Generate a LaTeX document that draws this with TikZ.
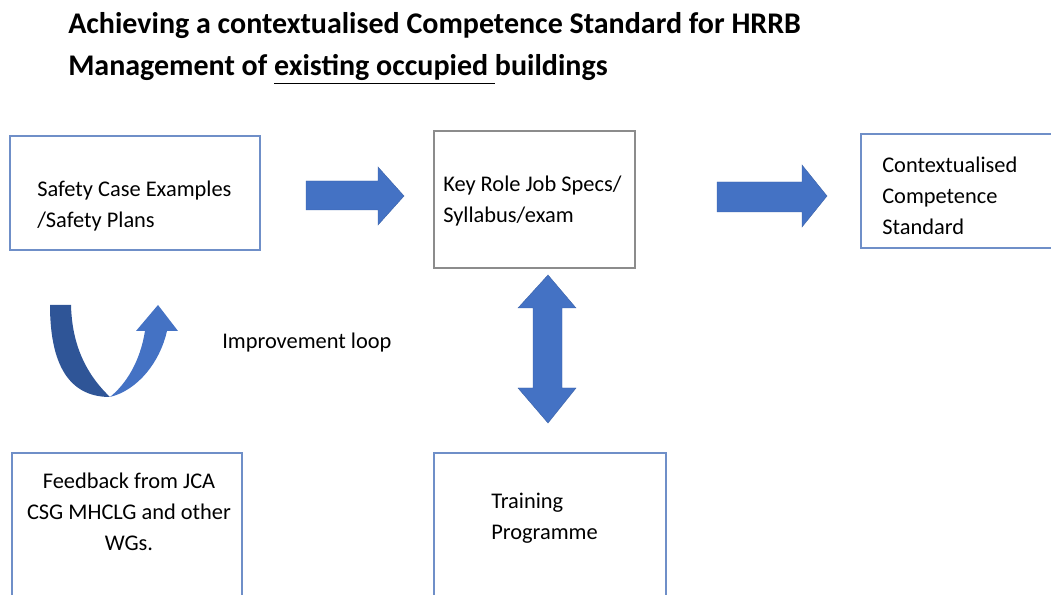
\documentclass[tikz,border=0pt]{standalone}
\usepackage{fontspec}
\setmainfont{Carlito}
\usepackage{tikz}
\usetikzlibrary{positioning}
\usepackage{xcolor}
\definecolor{arrowblue}{HTML}{4472C4}
\definecolor{darkblue}{HTML}{2F5597}
\definecolor{boxblue}{HTML}{6F8FC8}
\definecolor{boxgrey}{HTML}{8C8C8C}

\begin{document}
\begin{tikzpicture}[x=0.75pt, y=-0.75pt,
  box/.style={draw=boxblue, line width=0.9pt, inner sep=0},
  txt/.style={font=\fontsize{16.8}{23.3}\selectfont, inner sep=0, anchor=west, align=left},
  head/.style={font=\fontsize{22.5}{31.5}\selectfont\bfseries, inner sep=0, anchor=base west},
  blockarrow/.style={fill=arrowblue, draw=arrowblue!85!black, line width=0.3pt}
]
\useasboundingbox (0,0) rectangle (1051,595);

\node[head] (title1) at (68,34) {Achieving a contextualised Competence Standard for HRRB};
\node[head] (title2) at (68,76) {Management of \underline{existing occupied\ }buildings};

% boxes
\draw[box] (10,136) rectangle (260,250);
\draw[box, draw=boxgrey] (434,131) rectangle (635,268);
\draw[box] (861,134) rectangle (1060,248);
\draw[box] (12,453) rectangle (242,600);
\draw[box] (434,453) rectangle (666,600);

\node[txt] (safetytxt) at (37,206) {Safety Case Examples\\/Safety Plans};
\node[txt] (keyrole) at (443,201) {Key Role Job Specs/\\Syllabus/exam};
\node[txt] (standard) at (882,196) {Contextualised\\Competence\\Standard};
\node[txt, anchor=center, align=center] (feedback) at (129,512) {Feedback from JCA\\CSG MHCLG and other\\WGs.};
\node[txt] (training) at (491,518) {Training\\Programme};
\node[txt] (loop) at (222,343) {Improvement loop};

% block arrows
\fill[blockarrow] (306,181) -- (378,181) -- (378,167) -- (404,196) -- (378,225)
  -- (378,210) -- (306,210) -- cycle;
\fill[blockarrow] (717,182) -- (802,182) -- (802,165) -- (827,196) -- (802,227)
  -- (802,212) -- (717,212) -- cycle;
\fill[blockarrow] (548,275) -- (576,308) -- (562,308) -- (562,388) -- (576,388)
  -- (548,423) -- (518,388) -- (533,388) -- (533,308) -- (518,308) -- cycle;

% improvement loop arrow
\fill[darkblue] (50,305) .. controls (50,372) and (74,397) .. (110,397)
  .. controls (86,374) and (72,345) .. (71,305) -- cycle;
\fill[arrowblue] (110,397) .. controls (138,390) and (160,362) .. (167,331)
  -- (178,331) -- (158,305) -- (136,331) -- (145,331)
  .. controls (140,362) and (126,384) .. (110,397) -- cycle;
\end{tikzpicture}
\end{document}
